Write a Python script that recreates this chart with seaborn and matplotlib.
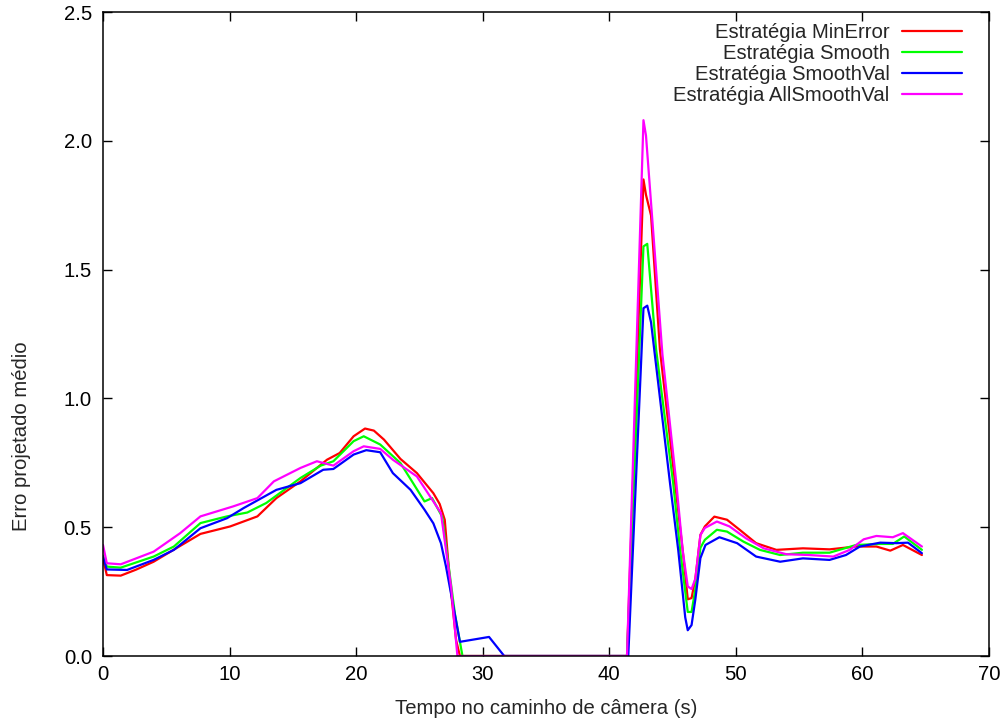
import numpy as np
import pandas as pd
import matplotlib
matplotlib.use("Agg")
import matplotlib.pyplot as plt
import seaborn as sns

# ---- data ----
series_names = ["Estratégia MinError", "Estratégia Smooth",
                "Estratégia SmoothVal", "Estratégia AllSmoothVal"]
series_colors = ["#ff0000", "#00ff00", "#0000ff", "#ff00ff"]

t_minerror = [0, 0.3, 1.4, 2.6, 4.0, 5.5, 7.7, 10.05, 12.2, 13.7, 15.6, 17.7, 18.7,
              19.8, 20.7, 21.4, 22.2, 23.5, 24.8, 26.1, 26.6, 27.0, 27.4, 27.9, 28.2,
              41.4, 42.7, 42.9, 43.3, 44.0, 45.2, 45.8, 46.2, 46.5, 46.8, 47.2, 47.55,
              48.3, 49.3, 50.3, 51.6, 53.2, 55.3, 57.4, 59.5, 61.1, 62.2, 63.2, 64.7]
v_minerror = [0.38, 0.314, 0.312, 0.335, 0.366, 0.41, 0.474, 0.503, 0.542, 0.613, 0.678,
              0.762, 0.788, 0.853, 0.883, 0.875, 0.84, 0.765, 0.71, 0.632, 0.59, 0.529,
              0.295, 0.061, 0.0, 0.0, 1.85, 1.79, 1.71, 1.19, 0.67, 0.41, 0.22, 0.225,
              0.30, 0.47, 0.503, 0.541, 0.529, 0.49, 0.438, 0.412, 0.418, 0.414, 0.425,
              0.425, 0.409, 0.431, 0.392]

t_smooth = [0, 0.3, 1.4, 4.0, 5.6, 7.7, 9.8, 11.4, 12.9, 15.6, 17.2, 18.2, 19.8, 20.6,
            21.9, 23.5, 24.5, 25.4, 26.0, 26.8, 27.8, 28.4, 41.4, 42.7, 43.0, 43.7,
            45.05, 45.6, 46.2, 46.5, 46.8, 47.2, 47.55, 48.5, 49.3, 50.6, 51.9, 53.5,
            55.3, 57.4, 59.5, 61.4, 62.4, 63.3, 64.7]
v_smooth = [0.39, 0.347, 0.343, 0.386, 0.425, 0.516, 0.542, 0.557, 0.594, 0.691, 0.739,
            0.756, 0.834, 0.853, 0.821, 0.749, 0.671, 0.60, 0.613, 0.54, 0.165, 0.0, 0.0,
            1.59, 1.60, 1.19, 0.67, 0.41, 0.171, 0.171, 0.26, 0.42, 0.451, 0.49, 0.483,
            0.444, 0.412, 0.392, 0.401, 0.401, 0.431, 0.435, 0.435, 0.464, 0.412]

t_smoothval = [0, 0.3, 1.9, 4.0, 5.6, 7.7, 9.8, 11.1, 13.7, 15.6, 17.4, 18.2, 19.8, 20.8,
               21.9, 22.9, 24.3, 25.4, 26.1, 26.7, 27.1, 28.2, 30.5, 31.7, 41.5, 42.7,
               43.0, 43.3, 43.55, 44.8, 45.45, 46.0, 46.2, 46.5, 46.8, 47.2, 47.6, 48.7,
               50.1, 51.6, 53.5, 55.3, 57.4, 58.7, 59.8, 61.4, 62.7, 63.6, 64.7]
v_smoothval = [0.385, 0.336, 0.334, 0.373, 0.412, 0.496, 0.535, 0.574, 0.645, 0.671,
               0.723, 0.726, 0.782, 0.799, 0.791, 0.71, 0.645, 0.568, 0.515, 0.438, 0.347,
               0.055, 0.074, 0.0, 0.0, 1.35, 1.36, 1.295, 1.19, 0.67, 0.41, 0.15, 0.10,
               0.12, 0.22, 0.38, 0.431, 0.461, 0.438, 0.386, 0.366, 0.379, 0.373, 0.392,
               0.425, 0.44, 0.438, 0.44, 0.399]

t_allsmooth = [0, 0.3, 1.4, 4.0, 6.1, 7.7, 10.3, 12.2, 13.5, 15.6, 16.9, 18.2, 19.8, 20.6,
               21.9, 22.9, 24.8, 26.1, 26.7, 27.5, 28.0, 41.4, 42.7, 42.9, 44.2, 45.3,
               45.8, 46.2, 46.5, 46.8, 47.2, 47.55, 48.5, 49.5, 50.8, 52.2, 54.0, 55.8,
               57.7, 59.0, 60.1, 61.1, 62.4, 63.2, 64.7]
v_allsmooth = [0.431, 0.36, 0.356, 0.405, 0.477, 0.542, 0.581, 0.613, 0.678, 0.73, 0.756,
               0.739, 0.795, 0.814, 0.804, 0.762, 0.697, 0.60, 0.555, 0.269, 0.0, 0.0,
               2.08, 2.02, 1.17, 0.67, 0.41, 0.27, 0.26, 0.30, 0.47, 0.497, 0.522, 0.503,
               0.457, 0.418, 0.395, 0.392, 0.386, 0.412, 0.453, 0.466, 0.461, 0.477, 0.425]

x_ticks = [0, 10, 20, 30, 40, 50, 60, 70]
y_ticks = [0.0, 0.5, 1.0, 1.5, 2.0, 2.5]
x_label = "Tempo no caminho de câmera (s)"
y_label = "Erro projetado médio"

# ---- build long table ----
frames = []
for name, t, v in zip(series_names,
                      [t_minerror, t_smooth, t_smoothval, t_allsmooth],
                      [v_minerror, v_smooth, v_smoothval, v_allsmooth]):
    frames.append(pd.DataFrame({"t": t, "v": v, "serie": name}))
df = pd.concat(frames, ignore_index=True)

sns.set_style("ticks")
plt.rcParams["font.family"] = ["Liberation Sans", "DejaVu Sans"]
FS = 14.6

fig = plt.figure(figsize=(10.03, 7.24), dpi=100)
ax = fig.add_axes([103 / 1003, 1 - 656 / 724, 886 / 1003, 644 / 724])

sns.lineplot(data=df, x="t", y="v", hue="serie", hue_order=series_names,
             palette=dict(zip(series_names, series_colors)), estimator=None,
             sort=False, linewidth=1.6, ax=ax)

ax.set_xlim(0, 70)
ax.set_ylim(0, 2.5)
ax.set_xticks(x_ticks)
ax.set_yticks(y_ticks)
ax.set_xticklabels([str(v) for v in x_ticks])
ax.set_yticklabels([f"{v:.1f}" for v in y_ticks])
ax.tick_params(axis="both", direction="in", length=6.5, width=1.0, top=True,
               right=True, labelsize=FS, colors="black")
ax.tick_params(axis="y", pad=8.0)
ax.tick_params(axis="x", pad=6.5)
for s in ax.spines.values():
    s.set_visible(True)
    s.set_linewidth(1.1)
    s.set_color("black")

ax.set_xlabel(x_label, fontsize=FS)
ax.set_ylabel(y_label, fontsize=FS)
ax.xaxis.label.set_va("center")
ax.yaxis.label.set_va("center")
ax.xaxis.set_label_coords(0.5, (655.7 - 708) / 644)
ax.yaxis.set_label_coords((21 - 103) / 886, (655.7 - 436) / 644)

handles, labels = ax.get_legend_handles_labels()
ax.legend(handles, labels, loc="upper right",
          bbox_to_anchor=((962 - 103) / 886, 1 - (23 - 12) / 644),
          frameon=False, markerfirst=False, handlelength=2.95, handletextpad=0.62,
          labelspacing=0.1, borderpad=0, borderaxespad=0, fontsize=FS)

fig.savefig("out.png", dpi=100)
